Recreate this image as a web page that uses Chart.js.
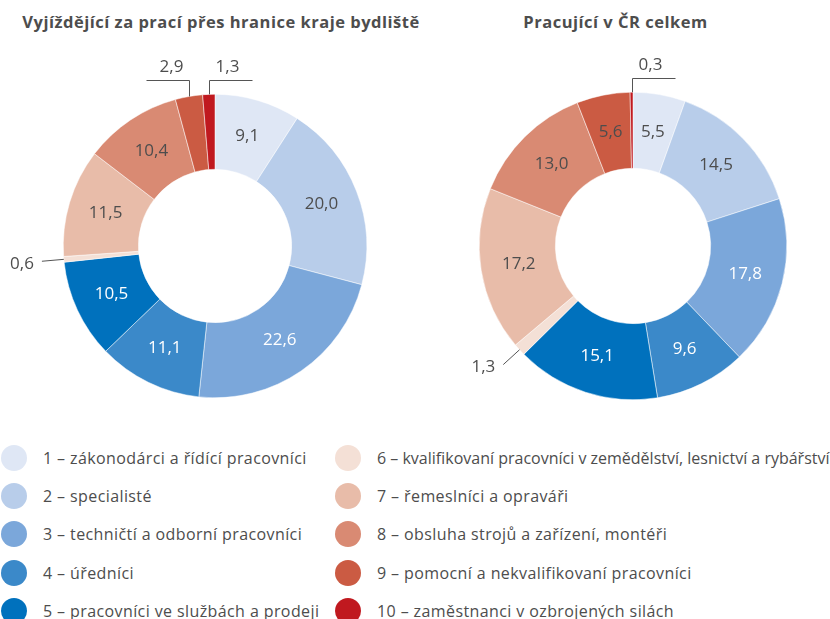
<!DOCTYPE html>
<html>
<head>
<meta charset="utf-8">
<script src="https://cdn.jsdelivr.net/npm/chart.js@4"></script>
<style>
  body { margin: 0; background: #fff; font-family: "Open Sans", sans-serif; color: #4d4d4d; }
  #wrap { position: relative; width: 830px; height: 619px; overflow: hidden; }
  .title { position: absolute; top: 10px; font-weight: bold; font-size: 16.5px; letter-spacing: 0.5px; text-align: center; white-space: nowrap; }
  canvas { position: absolute; top: 0; }
  .item { position: absolute; height: 26px; line-height: 26px; font-size: 16px; letter-spacing: 0.4px; white-space: nowrap; }
  .item.long { letter-spacing: 0; }
  .dot { position: absolute; left: 0; top: 0; width: 26px; height: 26px; border-radius: 50%; }
  .item span { position: absolute; left: 42px; top: 0; }
</style>
</head>
<body>
<div id="wrap">
  <div class="title" style="left:0;width:442px">Vyjíždějící za prací přes hranice kraje bydliště</div>
  <div class="title" style="left:430px;width:371px">Pracující v ČR celkem</div>
  <canvas id="leftChart" width="430" height="420" style="left:0"></canvas>
  <canvas id="rightChart" width="400" height="420" style="left:430px"></canvas>
  <div id="legend"></div>
</div>
<script>
// categories (ISCO major groups)
const categories = [
  '1 – zákonodárci a řídící pracovníci',
  '2 – specialisté',
  '3 – techničtí a odborní pracovníci',
  '4 – úředníci',
  '5 – pracovníci ve službách a prodeji',
  '6 – kvalifikovaní pracovníci v zemědělství, lesnictví a rybářství',
  '7 – řemeslníci a opraváři',
  '8 – obsluha strojů a zařízení, montéři',
  '9 – pomocní a nekvalifikovaní pracovníci',
  '10 – zaměstnanci v ozbrojených silách'
];
// % shares
const commuters = [9.1, 20.0, 22.6, 11.1, 10.5, 0.6, 11.5, 10.4, 2.9, 1.3];
const allWorkers = [5.5, 14.5, 17.8, 9.6, 15.1, 1.3, 17.2, 13.0, 5.6, 0.3];

const colors = ['#dfe7f5', '#b8cdea', '#7ba7da', '#3b89c9', '#0071bd',
                '#f4e0d6', '#e8bca9', '#d98a73', '#cb5b43', '#c0191f'];
const whiteText = [2, 3, 4, 9];
const textColor = '#4d4d4d';

const fmt = v => v.toFixed(1).replace('.', ',');

// labels inside slices, small slices get a leader line
const sliceLabels = {
  id: 'sliceLabels',
  afterDatasetsDraw(chart, args, opts) {
    const ctx = chart.ctx;
    const meta = chart.getDatasetMeta(0);
    const values = chart.data.datasets[0].data;
    ctx.save();
    ctx.font = '17px "Open Sans"';
    ctx.textBaseline = 'middle';
    meta.data.forEach((arc, i) => {
      const text = fmt(values[i]);
      const style = opts.leaders[i];
      const { x, y, startAngle, endAngle, outerRadius } =
        arc.getProps(['x', 'y', 'startAngle', 'endAngle', 'outerRadius'], true);
      const mid = (startAngle + endAngle) / 2;
      const ox = x + Math.cos(mid) * outerRadius;
      const oy = y + Math.sin(mid) * outerRadius;
      if (!style) {
        const p = arc.tooltipPosition(true);
        ctx.fillStyle = whiteText.includes(i) ? '#fff' : textColor;
        ctx.textAlign = 'center';
        ctx.fillText(text, p.x, p.y);
        return;
      }
      ctx.strokeStyle = '#555';
      ctx.lineWidth = 1;
      ctx.fillStyle = textColor;
      ctx.beginPath();
      if (style === 'radial') {
        const ex = ox + Math.cos(mid) * 22;
        const ey = oy + Math.sin(mid) * 22;
        ctx.moveTo(ox, oy);
        ctx.lineTo(ex, ey);
        ctx.stroke();
        ctx.textAlign = 'right';
        ctx.fillText(text, ex - 8, ey + 3);
      } else {
        const top = Math.round(y - outerRadius - 14) + 0.5;
        const dir = style === 'left' ? -1 : 1;
        const lx = Math.round(ox) + 0.5;
        ctx.moveTo(lx, oy);
        ctx.lineTo(lx, top);
        ctx.lineTo(lx + dir * 43, top);
        ctx.stroke();
        ctx.textAlign = 'center';
        ctx.fillText(text, lx + dir * 18, top - 13);
      }
    });
    ctx.restore();
  }
};

function makeDonut(id, values, padding, leaders) {
  return new Chart(id, {
    type: 'doughnut',
    data: {
      labels: categories,
      datasets: [{
        data: values,
        backgroundColor: colors,
        borderColor: '#ffffff',
        borderWidth: 0.5
      }]
    },
    options: {
      responsive: false,
      animation: false,
      cutout: '50.5%',
      layout: { padding: padding },
      plugins: {
        legend: { display: false },
        tooltip: { enabled: false },
        sliceLabels: { leaders: leaders }
      }
    },
    plugins: [sliceLabels]
  });
}

makeDonut('leftChart', commuters, { left: 63, right: 63, top: 94, bottom: 22 }, { 5: 'radial', 8: 'left', 9: 'right' });
makeDonut('rightChart', allWorkers, { left: 49, right: 43, top: 92, bottom: 20 }, { 5: 'radial', 9: 'right' });

// legend in two columns
const legend = document.getElementById('legend');
categories.forEach((name, i) => {
  const col = Math.floor(i / 5), row = i % 5;
  const el = document.createElement('div');
  el.className = 'item' + (name.length > 50 ? ' long' : '');
  el.style.left = (col === 0 ? 1 : 335) + 'px';
  el.style.top = (445 + row * 38.2) + 'px';
  el.innerHTML = '<div class="dot" style="background:' + colors[i] + '"></div><span>' + name + '</span>';
  legend.appendChild(el);
});
</script>
</body>
</html>
